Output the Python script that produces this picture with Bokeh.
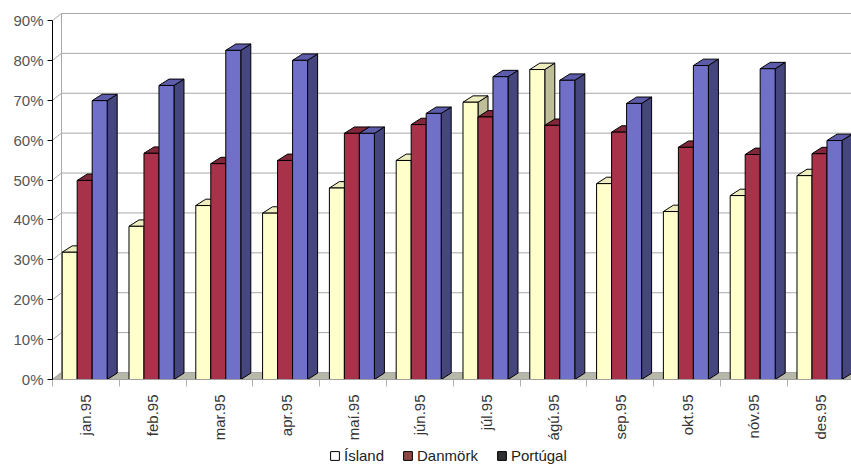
import numpy as np
from bokeh.plotting import figure
from bokeh.layouts import column
from bokeh.models import (Range1d, FixedTicker, CustomJSTickFormatter, Legend,
                          LegendItem)
from bokeh.embed import file_html
from bokeh.resources import INLINE

# monthly shares (%)
months = ["jan.95", "feb.95", "mar.95", "apr.95", "maí.95", "jún.95",
          "júl.95", "ágú.95", "sep.95", "okt.95", "nóv.95", "des.95"]
island = [31.9, 38.4, 43.6, 41.7, 48.0, 54.9, 69.5, 77.7, 49.1, 42.1, 46.1, 51.1]
danmork = [49.9, 56.7, 54.1, 54.9, 61.7, 63.9, 65.8, 63.7, 62.0, 58.2, 56.4, 56.6]
portugal = [69.9, 73.7, 82.5, 80.0, 61.7, 66.7, 75.9, 75.0, 69.2, 78.7, 77.9, 59.9]
series_names = ["Ísland", "Danmörk", "Portúgal"]
y_ticks = [0, 10, 20, 30, 40, 50, 60, 70, 80, 90]

# face colours per series: front, top, side
faces = [
    ("#FFFFCC", "#EDEDC0", "#BEBE98"),
    ("#A8324A", "#80283A", "#6A1E2E"),
    ("#7070C8", "#5C5CAA", "#46467E"),
]
legend_colors = ["#FFFFFF", "#8C4646", "#303030"]

FONT = "Liberation Sans"
BAR_W = 0.2245      # bar width in category units
OFFSET = 0.145      # gap before the first bar of a group
DX_BAR, DY_BAR = 0.15, 1.6      # bar depth projection
DX_WALL, DY_WALL = 0.135, 1.75  # wall depth projection
N = len(months)

p = figure(width=851, height=443, output_backend="svg", toolbar_location=None,
           x_range=Range1d(0, 11.961), y_range=Range1d(0, 95.0),
           min_border_left=52, min_border_right=0, min_border_top=0,
           min_border_bottom=58, outline_line_color=None,
           background_fill_color="white", border_fill_color="white")
p.xgrid.visible = False
p.ygrid.visible = False

# floor
p.patch([0, N + 1, N + 1 + DX_WALL, DX_WALL], [0, 0, DY_WALL, DY_WALL],
        fill_color="#B8B8AA", line_color="#A0A0A0", line_width=1)

# back wall gridlines, side wall diagonals and wall edge
gy = [v + DY_WALL for v in y_ticks]
p.segment(x0=[DX_WALL] * len(y_ticks), y0=gy, x1=[N + 1] * len(y_ticks), y1=gy,
          line_color="#A8A8A8", line_width=1)
p.segment(x0=[0] * len(y_ticks), y0=y_ticks, x1=[DX_WALL] * len(y_ticks), y1=gy,
          line_color="#A8A8A8", line_width=1)
p.segment(x0=[DX_WALL], y0=[DY_WALL], x1=[DX_WALL], y1=[y_ticks[-1] + DY_WALL],
          line_color="#A8A8A8", line_width=1)

# 3D bars, drawn series by series so later fronts cover earlier sides
for s, vals in enumerate([island, danmork, portugal]):
    vals = np.asarray(vals)
    x0 = np.arange(N) + OFFSET + s * BAR_W
    x1 = x0 + BAR_W
    side_xs = [[a, a + DX_BAR, a + DX_BAR, a] for a in x1]
    side_ys = [[0, DY_BAR, v + DY_BAR, v] for v in vals]
    top_xs = [[a, b, b + DX_BAR, a + DX_BAR] for a, b in zip(x0, x1)]
    top_ys = [[v, v, v + DY_BAR, v + DY_BAR] for v in vals]
    front, top, side = faces[s]
    p.patches(side_xs, side_ys, fill_color=side, line_color="black", line_width=1)
    p.patches(top_xs, top_ys, fill_color=top, line_color="black", line_width=1)
    p.quad(left=x0, right=x1, bottom=0, top=vals, fill_color=front,
           line_color="black", line_width=1)

# y axis
ya = p.yaxis[0]
ya.ticker = FixedTicker(ticks=y_ticks)
ya.formatter = CustomJSTickFormatter(code="return tick.toFixed(0) + '%';")
ya.bounds = (0, 90)
ya.axis_line_color = "black"
ya.major_tick_out = 5
ya.major_tick_in = 0
ya.major_tick_line_color = "black"
ya.minor_tick_line_color = None
ya.major_label_standoff = 4
ya.major_label_text_font = FONT
ya.major_label_text_font_size = "15px"
ya.major_label_text_color = "#555555"

# x axis: labels at group centres, tick marks at category boundaries
xa = p.xaxis[0]
xa.ticker = FixedTicker(ticks=[i + 0.5 for i in range(N)],
                        minor_ticks=list(range(N + 1)))
xa.major_label_overrides = {i + 0.5: m for i, m in enumerate(months)}
xa.major_label_orientation = np.pi / 2
xa.bounds = (0, N)
xa.axis_line_color = "#A0A0A0"
xa.major_tick_line_color = None
xa.major_tick_out = 0
xa.major_tick_in = 0
xa.minor_tick_line_color = "#B0B0B0"
xa.minor_tick_out = 7
xa.minor_tick_in = 0
xa.major_label_standoff = 8
xa.major_label_text_font = FONT
xa.major_label_text_font_size = "15px"
xa.major_label_text_color = "#333333"

# legend strip underneath the chart (swatch glyphs sit outside its view)
leg_fig = figure(width=851, height=22, output_backend="svg", toolbar_location=None,
                 x_range=Range1d(0, 1), y_range=Range1d(0, 1),
                 x_axis_location=None, y_axis_location=None,
                 min_border=0, outline_line_color=None,
                 background_fill_color="white", border_fill_color="white")
leg_fig.grid.visible = False
items = []
for name, col in zip(series_names, legend_colors):
    r = leg_fig.quad(left=[-10], right=[-9], top=[-9], bottom=[-10],
                     fill_color=col, line_color="black", line_width=1)
    items.append(LegendItem(label=name, renderers=[r]))
legend = Legend(items=items, orientation="horizontal", location=(277, 1),
                glyph_width=11, glyph_height=11, label_standoff=4, spacing=18,
                padding=0, margin=0, border_line_color=None,
                background_fill_alpha=0, label_text_font=FONT,
                label_text_font_size="15px", label_text_color="#222222")
leg_fig.add_layout(legend)

layout = column(p, leg_fig, spacing=0)
open("out.html", "w").write(file_html(layout, INLINE))
